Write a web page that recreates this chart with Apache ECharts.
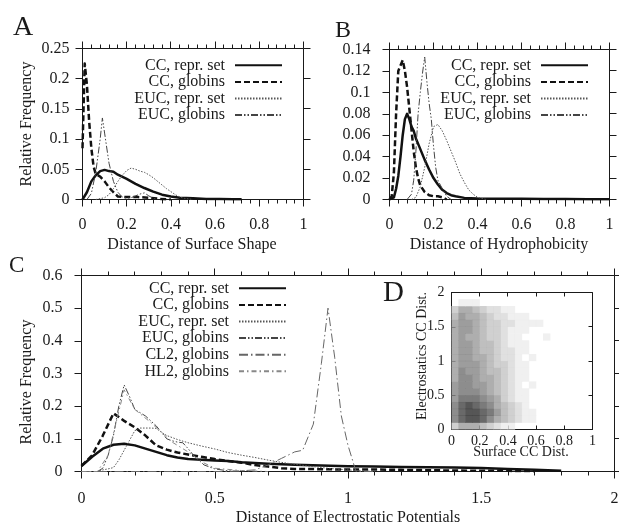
<!DOCTYPE html>
<html><head><meta charset="utf-8">
<script src="https://cdn.jsdelivr.net/npm/echarts@6/dist/echarts.min.js"></script>
<style>html,body{margin:0;padding:0;background:#fff}#c{width:619px;height:529px}</style>
</head><body><div id="c"></div>
<script>
// ---------- Panel A: Distance of Surface Shape ----------
const aCCReprX = [0, 0.02, 0.04, 0.06, 0.08, 0.10, 0.12, 0.14, 0.16, 0.20, 0.24, 0.28, 0.32, 0.36, 0.40, 0.44, 0.50, 0.56, 0.62, 0.68, 0.72];
const aCCReprY = [0, 0.012, 0.03, 0.04, 0.047, 0.049, 0.047, 0.046, 0.041, 0.034, 0.026, 0.019, 0.013, 0.008, 0.005, 0.003, 0.002, 0.001, 0.0008, 0.0005, 0.0003];
const aCCGlobX = [0, 0.01, 0.02, 0.03, 0.04, 0.05, 0.06, 0.08, 0.10, 0.12, 0.14, 0.16, 0.20, 0.25, 0.30, 0.35, 0.40];
const aCCGlobY = [0.085, 0.225, 0.19, 0.13, 0.085, 0.055, 0.042, 0.038, 0.03, 0.02, 0.012, 0.005, 0.004, 0.004, 0.003, 0.001, 0];
const aEUCReprX = [0.06, 0.10, 0.12, 0.14, 0.16, 0.18, 0.20, 0.22, 0.24, 0.26, 0.28, 0.30, 0.32, 0.34, 0.36, 0.38, 0.40, 0.42, 0.44, 0.46, 0.50];
const aEUCReprY = [0, 0.003, 0.008, 0.018, 0.03, 0.04, 0.048, 0.052, 0.05, 0.047, 0.045, 0.041, 0.036, 0.03, 0.024, 0.018, 0.013, 0.008, 0.004, 0.002, 0];
const aEUCGlobX = [0.02, 0.04, 0.06, 0.08, 0.09, 0.10, 0.12, 0.14, 0.16, 0.18, 0.20, 0.22, 0.24, 0.26, 0.28, 0.30, 0.32, 0.34];
const aEUCGlobY = [0, 0.01, 0.045, 0.1, 0.135, 0.11, 0.06, 0.03, 0.012, 0.004, 0.002, 0.003, 0.006, 0.009, 0.011, 0.006, 0.002, 0];

// ---------- Panel B: Distance of Hydrophobicity ----------
const bCCReprX = [0, 0.02, 0.03, 0.04, 0.05, 0.06, 0.07, 0.08, 0.09, 0.10, 0.11, 0.12, 0.14, 0.16, 0.18, 0.20, 0.22, 0.24, 0.26, 0.28, 0.30, 0.34, 0.40, 0.50, 0.60, 0.70, 0.80, 0.90, 1.0];
const bCCReprY = [0, 0.002, 0.01, 0.022, 0.04, 0.06, 0.075, 0.08, 0.075, 0.068, 0.064, 0.057, 0.047, 0.037, 0.028, 0.02, 0.014, 0.009, 0.006, 0.004, 0.003, 0.0015, 0.001, 0.0008, 0.0006, 0.0005, 0.0004, 0.0003, 0.0002];
const bCCGlobX = [0, 0.01, 0.02, 0.03, 0.04, 0.05, 0.06, 0.07, 0.08, 0.09, 0.10, 0.11, 0.12, 0.13, 0.14, 0.16, 0.18, 0.20, 0.22, 0.24, 0.26];
const bCCGlobY = [0, 0.003, 0.025, 0.08, 0.12, 0.125, 0.13, 0.12, 0.105, 0.085, 0.065, 0.045, 0.03, 0.02, 0.013, 0.007, 0.004, 0.003, 0.003, 0.002, 0];
const bEUCReprX = [0.10, 0.12, 0.14, 0.16, 0.18, 0.20, 0.22, 0.24, 0.26, 0.28, 0.30, 0.32, 0.34, 0.36, 0.38, 0.40, 0.44];
const bEUCReprY = [0, 0.002, 0.012, 0.03, 0.052, 0.068, 0.07, 0.064, 0.055, 0.045, 0.035, 0.024, 0.016, 0.009, 0.005, 0.002, 0];
const bEUCGlobX = [0.08, 0.10, 0.11, 0.12, 0.13, 0.14, 0.15, 0.16, 0.17, 0.18, 0.19, 0.20, 0.21, 0.22, 0.24, 0.26, 0.28];
const bEUCGlobY = [0, 0.005, 0.018, 0.045, 0.08, 0.1, 0.118, 0.133, 0.11, 0.09, 0.075, 0.05, 0.03, 0.018, 0.01, 0.003, 0];

// ---------- Panel C: Distance of Electrostatic Potentials ----------
const cCCReprX = [0, 0.04, 0.08, 0.12, 0.16, 0.2, 0.24, 0.28, 0.32, 0.36, 0.4, 0.45, 0.5, 0.55, 0.6, 0.7, 0.8, 0.9, 1.0, 1.1, 1.2, 1.3, 1.4, 1.5, 1.6, 1.7, 1.8];
const cCCReprY = [0.017, 0.045, 0.07, 0.082, 0.085, 0.08, 0.07, 0.06, 0.05, 0.043, 0.038, 0.036, 0.034, 0.032, 0.028, 0.024, 0.021, 0.018, 0.016, 0.015, 0.014, 0.013, 0.012, 0.011, 0.008, 0.005, 0.002];
const cCCGlobX = [0, 0.04, 0.08, 0.12, 0.16, 0.2, 0.24, 0.28, 0.32, 0.36, 0.4, 0.45, 0.5, 0.55, 0.6, 0.65, 0.7, 0.75, 0.8, 0.9, 1.0, 1.1, 1.2, 1.3, 1.4, 1.5, 1.6, 1.7];
const cCCGlobY = [0.017, 0.05, 0.11, 0.178, 0.155, 0.135, 0.11, 0.08, 0.067, 0.058, 0.052, 0.045, 0.038, 0.032, 0.027, 0.02, 0.015, 0.01, 0.008, 0.007, 0.006, 0.006, 0.005, 0.004, 0.003, 0.002, 0.002, 0.001];
const cEUCReprX = [0, 0.06, 0.08, 0.1, 0.12, 0.14, 0.16, 0.18, 0.2, 0.22, 0.24, 0.26, 0.28, 0.3, 0.32, 0.36, 0.4, 0.45, 0.5, 0.55, 0.6, 0.65, 0.7, 0.75, 0.8, 0.85, 0.9, 0.95, 1.0, 1.05, 1.1];
const cEUCReprY = [0, 0, 0.005, 0.008, 0.012, 0.035, 0.065, 0.095, 0.125, 0.133, 0.133, 0.133, 0.132, 0.12, 0.11, 0.098, 0.088, 0.078, 0.069, 0.058, 0.05, 0.043, 0.035, 0.028, 0.022, 0.017, 0.012, 0.008, 0.005, 0.002, 0];
const cEUCGlobX = [0, 0.06, 0.08, 0.1, 0.12, 0.14, 0.16, 0.18, 0.2, 0.22, 0.24, 0.26, 0.28, 0.3, 0.32, 0.34, 0.36, 0.38, 0.4, 0.42, 0.44, 0.46, 0.5, 0.55, 0.6];
const cEUCGlobY = [0, 0, 0.01, 0.05, 0.11, 0.2, 0.265, 0.23, 0.19, 0.18, 0.17, 0.155, 0.14, 0.12, 0.1, 0.094, 0.09, 0.088, 0.07, 0.05, 0.035, 0.02, 0.008, 0.002, 0];
const cCL2GlobX = [0, 0.55, 0.6, 0.65, 0.7, 0.75, 0.8, 0.83, 0.87, 0.9, 0.925, 0.95, 0.975, 1.0, 1.03, 1.1];
const cCL2GlobY = [0, 0, 0.002, 0.005, 0.02, 0.04, 0.06, 0.065, 0.145, 0.33, 0.5, 0.35, 0.17, 0.08, 0, 0];
const cHL2GlobX = [0, 0.06, 0.1, 0.13, 0.16, 0.2, 0.26, 0.3, 0.34, 0.4, 0.45, 0.5, 0.6, 0.7];
const cHL2GlobY = [0, 0, 0.05, 0.15, 0.25, 0.19, 0.15, 0.12, 0.09, 0.06, 0.03, 0.01, 0.003, 0];

// ---------- Panel D: point density (Surface CC Dist. vs Electrostatics CC Dist.) ----------
const dXBins = [0, 0.05, 0.1, 0.15, 0.2, 0.25, 0.3, 0.35, 0.4, 0.45, 0.5, 0.55, 0.6, 0.65, 0.7];
const dYBins = [0, 0.1, 0.2, 0.3, 0.4, 0.5, 0.6, 0.7, 0.8, 0.9, 1.0, 1.1, 1.2, 1.3, 1.4, 1.5, 1.6, 1.7, 1.8];
const dDensity = [
  [3, 5, 5, 5, 4, 3, 2, 1, 1, 0, 0, 0, 0, 0, 0],
  [7, 9, 10, 10, 9, 7, 5, 4, 3, 2, 1, 1, 0, 0, 0],
  [7, 9, 10, 10, 9, 8, 6, 4, 3, 2, 1, 1, 0, 0, 0],
  [7, 9, 10, 9, 8, 7, 5, 4, 3, 2, 1, 0, 0, 0, 0],
  [6, 8, 8, 8, 7, 6, 5, 3, 2, 1, 1, 0, 0, 0, 0],
  [6, 7, 7, 7, 6, 5, 4, 3, 2, 1, 1, 0, 0, 0, 0],
  [6, 7, 7, 6, 6, 5, 4, 3, 2, 1, 0, 1, 0, 0, 0],
  [5, 7, 7, 6, 5, 5, 4, 3, 2, 1, 1, 0, 0, 0, 0],
  [5, 7, 6, 6, 5, 4, 4, 3, 2, 1, 1, 0, 0, 0, 0],
  [5, 6, 6, 6, 5, 4, 3, 3, 2, 1, 1, 0, 0, 0, 0],
  [5, 6, 6, 5, 5, 4, 3, 2, 2, 1, 0, 1, 0, 0, 0],
  [5, 6, 6, 5, 4, 4, 3, 2, 2, 1, 1, 0, 0, 0, 0],
  [5, 6, 6, 5, 4, 4, 3, 2, 1, 1, 1, 0, 0, 0, 0],
  [5, 6, 5, 5, 4, 3, 3, 2, 1, 1, 0, 0, 0, 1, 0],
  [5, 6, 6, 5, 4, 3, 3, 2, 1, 1, 1, 0, 0, 0, 0],
  [5, 6, 6, 5, 4, 3, 3, 2, 2, 1, 1, 1, 1, 0, 0],
  [4, 6, 5, 5, 4, 3, 2, 2, 1, 1, 1, 0, 0, 0, 0],
  [3, 5, 5, 4, 3, 2, 2, 1, 1, 0, 0, 0, 0, 0, 0],
  [0, 1, 1, 1, 0, 0, 0, 0, 0, 0, 0, 0, 0, 0, 0]
];

// ---------- Styling ----------
const SERIF = '"Liberation Serif", "Times New Roman", serif';
const INK = '#1a1a1a';
const styles = {
  'CC, repr. set': { color: '#111', width: 2.5, type: 'solid' },
  'CC, globins': { color: '#111', width: 2.5, type: [6, 3] },
  'EUC, repr. set': { color: '#555', width: 1, type: [1.5, 1.5] },
  'EUC, globins': { color: '#444', width: 1, type: [7, 2, 1.5, 2, 1.5, 2] },
  'CL2, globins': { color: '#666', width: 1, type: [9, 3, 1.5, 3] },
  'HL2, globins': { color: '#888', width: 1, type: [5, 3, 1.5, 3] }
};

const panels = [
  { rect: { left: 82.5, top: 48.5, width: 221, height: 151 }, x: [0, 1, 0.2], y: [0, 0.25, 0.05], xMargin: 17, yMargin: 13, minor: true, inside: false, font: 16 },
  { rect: { left: 389.5, top: 49.5, width: 220, height: 150 }, x: [0, 1, 0.2], y: [0, 0.14, 0.02], xMargin: 17, yMargin: 19, minor: true, inside: false, font: 16 },
  { rect: { left: 81.5, top: 275.5, width: 533, height: 196 }, x: [0, 2, 0.5], y: [0, 0.6, 0.1], xMargin: 19, yMargin: 19, minor: true, inside: false, font: 16 },
  { rect: { left: 451.5, top: 292.5, width: 141, height: 137 }, x: [0, 1, 0.2], y: [0, 2, 0.5], xMargin: 5, yMargin: 7, minor: false, inside: true, font: 14 }
];

const grids = [], xAxes = [], yAxes = [];
panels.forEach((p, i) => {
  const g = Object.assign({ outerBoundsMode: 'none', show: true, borderColor: INK, borderWidth: 1,
    backgroundColor: i === 3 ? '#fff' : 'transparent' }, p.rect);
  grids.push(g);
  xAxes.push({ gridIndex: i, type: 'value', position: 'bottom', min: p.x[0], max: p.x[1], interval: p.x[2],
    axisLine: { show: true, onZero: false, lineStyle: { color: INK } },
    axisTick: { show: true, inside: p.inside, length: p.inside ? 4 : 7, lineStyle: { color: INK } },
    minorTick: { show: p.minor, splitNumber: 5, length: 4, lineStyle: { color: INK } },
    splitLine: { show: false },
    axisLabel: { margin: p.xMargin, fontFamily: SERIF, fontSize: p.font, color: INK, showMinLabel: true, showMaxLabel: true } });
  yAxes.push({ gridIndex: i, type: 'value', position: 'left', min: p.y[0], max: p.y[1], interval: p.y[2],
    axisLine: { show: true, onZero: false, lineStyle: { color: INK } },
    axisTick: { show: true, inside: p.inside, length: p.inside ? 4 : 7, lineStyle: { color: INK } },
    splitLine: { show: false },
    axisLabel: { margin: p.yMargin, fontFamily: SERIF, fontSize: p.font, color: INK, showMinLabel: true, showMaxLabel: true } });
});

function mk(name, xs, ys, panel) {
  const s = styles[name];
  return {
    type: 'line', name: name, xAxisIndex: panel, yAxisIndex: panel,
    data: xs.map((x, i) => [x, ys[i]]), symbol: 'none', showSymbol: false,
    itemStyle: { color: s.color },
    lineStyle: { color: s.color, width: s.width, type: s.type, cap: 'butt', join: 'round' }
  };
}

const series = [
  mk('CC, repr. set', aCCReprX, aCCReprY, 0),
  mk('CC, globins', aCCGlobX, aCCGlobY, 0),
  mk('EUC, repr. set', aEUCReprX, aEUCReprY, 0),
  mk('EUC, globins', aEUCGlobX, aEUCGlobY, 0),
  mk('CC, repr. set', bCCReprX, bCCReprY, 1),
  mk('CC, globins', bCCGlobX, bCCGlobY, 1),
  mk('EUC, repr. set', bEUCReprX, bEUCReprY, 1),
  mk('EUC, globins', bEUCGlobX, bEUCGlobY, 1),
  mk('CC, repr. set', cCCReprX, cCCReprY, 2),
  mk('CC, globins', cCCGlobX, cCCGlobY, 2),
  mk('EUC, repr. set', cEUCReprX, cEUCReprY, 2),
  mk('EUC, globins', cEUCGlobX, cEUCGlobY, 2),
  mk('CL2, globins', cCL2GlobX, cCL2GlobY, 2),
  mk('HL2, globins', cHL2GlobX, cHL2GlobY, 2)
];

// density cells of panel D, grey level from dDensity
const greys = ['#ffffff', '#ececec', '#d8d8d8', '#c4c4c4', '#afafaf', '#9a9a9a', '#858585', '#707070', '#5a5a5a', '#434343', '#2c2c2c'];
const densityData = [];
dDensity.forEach((row, r) => row.forEach((v, c) => {
  if (v > 0) densityData.push({ value: [dXBins[c] + 0.025, dYBins[r] + 0.05, v], itemStyle: { color: greys[v] } });
}));
series.push({
  type: 'scatter', name: 'density', xAxisIndex: 3, yAxisIndex: 3, symbol: 'rect',
  symbolSize: [7.4, 7.2], data: densityData, silent: true
});

// mirrored ticks on the top and right frame edges, placed through each panel's own axes
function steps(min, max, step) {
  const out = [], n = Math.round((max - min) / step);
  for (let k = 0; k <= n; k++) out.push(+(min + k * step).toFixed(6));
  return out;
}
panels.forEach((p, i) => {
  const major = p.inside ? 4 : 7, minorLen = p.inside ? 2 : 4;
  const sign = p.inside ? 1 : -1;
  const topTicks = steps(p.x[0], p.x[1], p.x[2]).map(v => [v, major]);
  if (p.minor) {
    steps(p.x[0], p.x[1], p.x[2] / 5).forEach((v, k) => { if (k % 5 !== 0) topTicks.push([v, minorLen]); });
  }
  const rightTicks = steps(p.y[0], p.y[1], p.y[2]).map(v => [v, major]);
  series.push({
    type: 'custom', xAxisIndex: i, yAxisIndex: i, clip: false, silent: true, data: topTicks,
    renderItem: function (params, api) {
      const pt = api.coord([api.value(0), p.y[1]]);
      const x = Math.floor(pt[0]) + 0.5, y = Math.floor(pt[1]) + 0.5, len = api.value(1);
      return { type: 'line', shape: { x1: x, y1: y, x2: x, y2: y + sign * len }, style: { stroke: INK, lineWidth: 1 } };
    }
  });
  series.push({
    type: 'custom', xAxisIndex: i, yAxisIndex: i, clip: false, silent: true, data: rightTicks.map(t => [p.x[1], t[0], t[1]]),
    renderItem: function (params, api) {
      const pt = api.coord([p.x[1], api.value(1)]);
      const x = Math.floor(pt[0]) + 0.5, y = Math.floor(pt[1]) + 0.5, len = api.value(2);
      return { type: 'line', shape: { x1: x, y1: y, x2: x - sign * len, y2: y }, style: { stroke: INK, lineWidth: 1 } };
    }
  });
});

const legendBase = {
  orient: 'vertical', align: 'right', itemWidth: 47, itemHeight: 10, itemGap: 0, padding: 0,
  selectedMode: false, itemStyle: { opacity: 0 },
  textStyle: { fontFamily: SERIF, fontSize: 16, color: INK, lineHeight: 16.6, padding: [0, 5, 0, 0] }
};
const names4 = ['CC, repr. set', 'CC, globins', 'EUC, repr. set', 'EUC, globins'];
const legends = [
  Object.assign({}, legendBase, { data: names4, right: 336, top: 57 }),
  Object.assign({}, legendBase, { data: names4, right: 30, top: 57 }),
  Object.assign({}, legendBase, { data: names4.concat(['CL2, globins', 'HL2, globins']), right: 332, top: 280 })
];

function txt(t, x, y, size, rot, align) {
  return { type: 'text', x: x, y: y, rotation: rot || 0, silent: true,
    style: { text: t, align: align || 'center', verticalAlign: 'middle', font: size + 'px ' + SERIF, fill: INK } };
}

const chart = echarts.init(document.getElementById('c'));
chart.setOption({
  animation: false,
  grid: grids, xAxis: xAxes, yAxis: yAxes,
  legend: legends,
  series: series,
  graphic: [
    txt('A', 13, 28, 28, 0, 'left'),
    txt('B', 335, 31, 24, 0, 'left'),
    txt('C', 9, 266, 23, 0, 'left'),
    txt('D', 383, 293, 29, 0, 'left'),
    txt('Relative Frequency', 27, 124, 16, Math.PI / 2),
    txt('Distance of Surface Shape', 192, 245, 16),
    txt('Distance of Hydrophobicity', 499, 245, 16),
    txt('Relative Frequency', 27, 382, 16, Math.PI / 2),
    txt('Distance of Electrostatic Potentials', 348, 518, 16),
    txt('Electrostatics CC Dist.', 422, 356, 14, Math.PI / 2),
    txt('Surface CC Dist.', 521, 452, 14)
  ]
});
</script></body></html>
